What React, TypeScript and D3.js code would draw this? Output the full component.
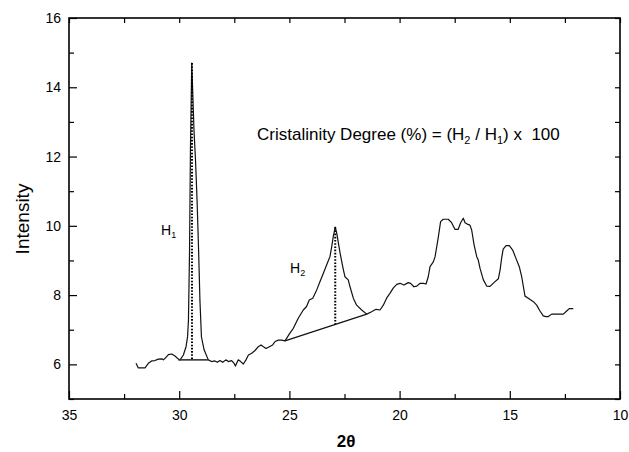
import * as d3 from "d3";
import { useEffect, useRef } from "react";

const W = 629;
const H = 452;
const margin = { left: 69, right: 9, top: 18, bottom: 53 };

// diffractogram trace (2θ, intensity)
const twoTheta = [
  31.96, 31.86, 31.55, 31.4, 31.25, 31.1, 30.95, 30.79, 30.72, 30.6, 30.49, 30.34, 30.19, 30.04,
  29.96, 29.81, 29.69, 29.62, 29.58, 29.53, 29.49, 29.43,
  29.33, 29.26, 29.19, 29.12, 29.06, 28.99, 28.87, 28.68,
  28.53, 28.38, 28.27, 28.15, 28.03, 27.88, 27.77, 27.62, 27.51, 27.45, 27.32, 27.21, 27.09,
  26.97, 26.86, 26.71, 26.56, 26.41, 26.29, 26.18, 26.06, 25.91, 25.76, 25.65, 25.5, 25.35, 25.2,
  24.97, 24.82, 24.6, 24.37, 24.22, 24.1, 23.94, 23.76, 23.61, 23.46, 23.28, 23.16, 23.08, 23.01,
  22.92, 22.85, 22.7, 22.55, 22.48, 22.33, 22.25, 22.1, 21.95, 21.72, 21.49, 21.27, 21.07, 20.89,
  20.74, 20.59, 20.44, 20.29, 20.13, 19.98, 19.8, 19.61, 19.5, 19.35, 19.22, 19.07, 18.92, 18.8,
  18.7, 18.62, 18.47, 18.39, 18.24, 18.14, 18.02, 17.79, 17.64, 17.49, 17.34, 17.23, 17.11, 17.03,
  16.93, 16.81, 16.73, 16.62, 16.5, 16.43, 16.35, 16.2, 16.05, 15.9, 15.72, 15.52, 15.44, 15.37,
  15.3, 15.17, 15.02, 14.87, 14.72, 14.57, 14.46, 14.31, 14.16, 13.93, 13.78, 13.63, 13.48, 13.36,
  13.25, 13.1, 12.57, 12.42, 12.3, 12.12,
];
const intensity = [
  6.03, 5.9, 5.9, 6.03, 6.1, 6.11, 6.15, 6.16, 6.13, 6.2, 6.28, 6.3, 6.24, 6.15,
  6.13, 6.27, 6.51, 6.8, 7.28, 9.3, 12.19, 14.7,
  12.77, 11.9, 10.75, 9.3, 7.86, 6.79, 6.42, 6.13,
  6.08, 6.1, 6.06, 6.11, 6.06, 6.13, 6.08, 6.11, 6.03, 5.95, 6.13, 6.08, 6.01,
  6.13, 6.27, 6.32, 6.4, 6.51, 6.56, 6.51, 6.46, 6.51, 6.56, 6.66, 6.7, 6.7, 6.68,
  6.91, 7.04, 7.33, 7.57, 7.67, 7.86, 7.91, 8.15, 8.39, 8.63, 8.92, 9.11, 9.4, 9.69,
  9.96, 9.78, 9.21, 8.73, 8.53, 8.44, 8.24, 7.91, 7.71, 7.57, 7.45, 7.52, 7.59, 7.57,
  7.71, 7.91, 8.05, 8.2, 8.31, 8.34, 8.29, 8.36, 8.34, 8.24, 8.26, 8.34, 8.34, 8.32,
  8.53, 8.82, 8.96, 9.11, 9.69, 10.12, 10.19, 10.19, 10.09, 9.9, 9.9, 10.09, 10.22, 10.09,
  10.05, 10.02, 9.88, 9.45, 9.11, 9.01, 8.77, 8.44, 8.26, 8.25, 8.36, 8.47, 8.73, 9.07,
  9.33, 9.43, 9.43, 9.3, 9.06, 8.82, 8.53, 7.97, 7.91, 7.81, 7.71, 7.54, 7.4, 7.38,
  7.38, 7.45, 7.45, 7.54, 7.61, 7.61,
];

// construction lines for H1 and H2
const h1Base = [
  [30.04, 6.13],
  [28.68, 6.13],
];
const h1Height = [
  [29.42, 14.7],
  [29.42, 6.13],
];
const h2Base = [
  [25.2, 6.68],
  [21.49, 7.45],
];
const h2Height = [
  [22.92, 9.96],
  [22.92, 7.15],
];

const xMajor = [35, 30, 25, 20, 15, 10];
const xMinor = [32.5, 27.5, 22.5, 17.5, 12.5];
const yMajor = [6, 8, 10, 12, 14, 16];
const yMinor = [5, 7, 9, 11, 13, 15];
const xTop = [35, 32.5, 30, 27.5, 25, 22.5, 20, 17.5, 15, 12.5, 10];
const yRight = [5, 6, 7, 8, 9, 10, 11, 12, 13, 14, 15, 16];

const FONT = "'Liberation Sans', Arial, Helvetica, sans-serif";

const App = () => {
  const svgRef = useRef(null);

  const width = W - margin.left - margin.right;
  const height = H - margin.top - margin.bottom;

  useEffect(() => {
    const svg = d3.select(svgRef.current);
    svg.selectAll("*").remove();

    const xScale = d3.scaleLinear().domain([35, 10]).range([0, width]);
    const yScale = d3.scaleLinear().domain([5, 16]).range([height, 0]);

    const g = svg
      .append("g")
      .attr("transform", `translate(${margin.left}, ${margin.top})`);

    const styleAxis = (sel, labels) => {
      sel.select(".domain").remove();
      sel.selectAll("line").attr("stroke", "#000").attr("stroke-width", 1.2);
      if (labels) {
        sel
          .selectAll("text")
          .attr("fill", "#000")
          .attr("font-size", 14)
          .attr("font-family", FONT);
      } else {
        sel.selectAll("text").remove();
      }
    };

    // bottom axis
    g.append("g")
      .attr("transform", `translate(0, ${height})`)
      .call(d3.axisBottom(xScale).tickValues(xMajor).tickSize(-8).tickPadding(11).tickFormat(d3.format("d")))
      .call((s) => styleAxis(s, true));
    g.append("g")
      .attr("transform", `translate(0, ${height})`)
      .call(d3.axisBottom(xScale).tickValues(xMinor).tickSize(-5))
      .call((s) => styleAxis(s, false));

    // left axis
    g.append("g")
      .call(d3.axisLeft(yScale).tickValues(yMajor).tickSize(-8).tickPadding(8).tickFormat(d3.format("d")))
      .call((s) => styleAxis(s, true));
    g.append("g")
      .call(d3.axisLeft(yScale).tickValues(yMinor).tickSize(-5))
      .call((s) => styleAxis(s, false));

    // top and right mirrored ticks
    g.append("g")
      .call(d3.axisTop(xScale).tickValues(xTop).tickSize(-5))
      .call((s) => styleAxis(s, false));
    g.append("g")
      .attr("transform", `translate(${width}, 0)`)
      .call(d3.axisRight(yScale).tickValues(yRight).tickSize(-5))
      .call((s) => styleAxis(s, false));

    // frame
    g.append("rect")
      .attr("width", width)
      .attr("height", height)
      .attr("fill", "none")
      .attr("stroke", "#000")
      .attr("stroke-width", 1.6);

    const line = d3
      .line()
      .x((d) => xScale(d[0]))
      .y((d) => yScale(d[1]));

    const trace = twoTheta.map((t, i) => [t, intensity[i]]);

    g.append("path")
      .attr("d", line(trace))
      .attr("fill", "none")
      .attr("stroke", "#111")
      .attr("stroke-width", 1.2)
      .attr("stroke-linejoin", "round");

    g.append("path")
      .attr("d", line(h1Base))
      .attr("fill", "none")
      .attr("stroke", "#333")
      .attr("stroke-width", 1.6);
    g.append("path")
      .attr("d", line(h2Base))
      .attr("fill", "none")
      .attr("stroke", "#111")
      .attr("stroke-width", 1.2);

    [h1Height, h2Height].forEach((pts) => {
      g.append("path")
        .attr("d", line(pts))
        .attr("fill", "none")
        .attr("stroke", "#000")
        .attr("stroke-width", 2)
        .attr("stroke-dasharray", "1.6,1.6");
    });
  }, [width, height]);

  return (
    <svg
      width={W}
      height={H}
      style={{ position: "absolute", left: 0, top: 0, background: "#fff" }}
      fontFamily={FONT}
    >
      <g ref={svgRef} />
      <text
        x={29}
        y={219}
        transform="rotate(-90, 29, 219)"
        textAnchor="middle"
        fontSize={19}
      >
        Intensity
      </text>
      <text x={346} y={447} textAnchor="middle" fontSize={17} fontWeight="bold">
        2θ
      </text>
      <text x={257} y={140} fontSize={17} style={{ whiteSpace: "pre" }}>
        Cristalinity Degree (%) = (H
        <tspan fontSize={11} dy={4}>2</tspan>
        <tspan dy={-4}> / H</tspan>
        <tspan fontSize={11} dy={4}>1</tspan>
        <tspan dy={-4}>) x  100</tspan>
      </text>
      <text x={161} y={235} fontSize={14}>
        H<tspan fontSize={9} dy={3}>1</tspan>
      </text>
      <text x={290} y={273} fontSize={14}>
        H<tspan fontSize={9} dy={3}>2</tspan>
      </text>
    </svg>
  );
};

export default App;
